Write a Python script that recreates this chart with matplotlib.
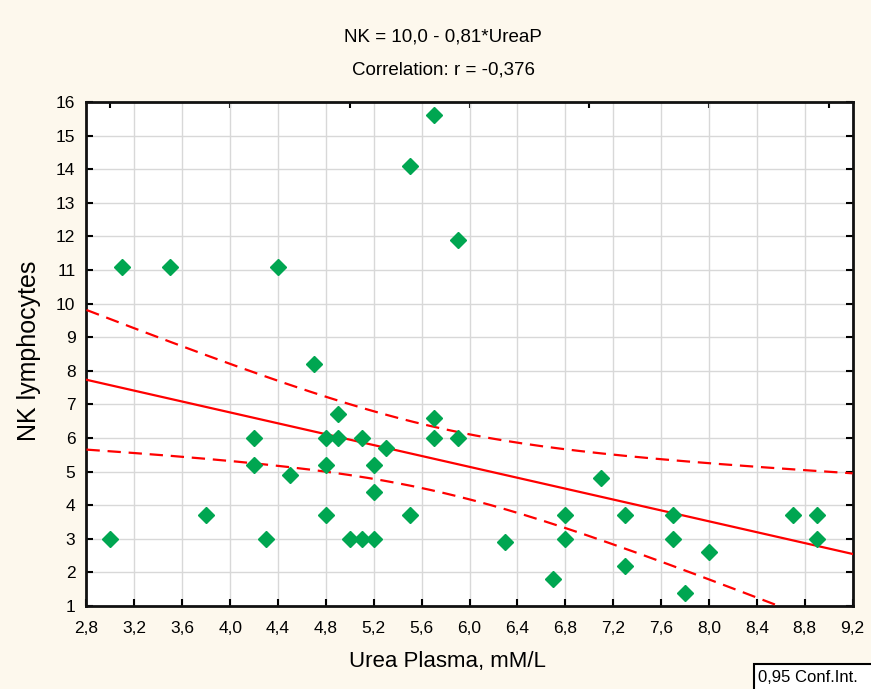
import numpy as np
import matplotlib
matplotlib.use('Agg')
import matplotlib.pyplot as plt
from matplotlib.patches import Rectangle
from matplotlib.ticker import FixedLocator

# urea plasma (mM/L) and NK lymphocytes
urea = [3.0, 3.1, 3.5, 3.8, 4.2, 4.2, 4.3, 4.4, 4.5, 4.7,
        4.8, 4.8, 4.8, 4.9, 4.9, 5.0, 5.1, 5.1, 5.2, 5.2,
        5.2, 5.3, 5.5, 5.5, 5.7, 5.7, 5.7, 5.9, 5.9, 6.3,
        6.7, 6.8, 6.8, 7.1, 7.3, 7.3, 7.7, 7.7, 7.8, 8.0,
        8.7, 8.9, 8.9]
nk = [3.0, 11.1, 11.1, 3.7, 6.0, 5.2, 3.0, 11.1, 4.9, 8.2,
      6.0, 5.2, 3.7, 6.7, 6.0, 3.0, 3.0, 6.0, 3.0, 5.2,
      4.4, 5.7, 14.1, 3.7, 15.6, 6.6, 6.0, 11.9, 6.0, 2.9,
      1.8, 3.7, 3.0, 4.8, 2.2, 3.7, 3.7, 3.0, 1.4, 2.6,
      3.7, 3.7, 3.0]

intercept = 10.0
slope = -0.81
t_crit = 2.0195  # 0.975 quantile, 41 df

x_ticks = [2.8, 3.2, 3.6, 4.0, 4.4, 4.8, 5.2, 5.6, 6.0, 6.4, 6.8, 7.2, 7.6, 8.0, 8.4, 8.8, 9.2]
y_ticks = list(range(1, 17))

fonts = ['Liberation Sans Narrow', 'Liberation Sans', 'DejaVu Sans']
plt.rcParams['font.family'] = fonts

x = np.array(urea)
y = np.array(nk)
n = len(x)
resid = y - (intercept + slope * x)
s = np.sqrt(np.sum(resid ** 2) / (n - 2))
sxx = np.sum((x - x.mean()) ** 2)
xs = np.linspace(2.8, 9.2, 200)
fit = intercept + slope * xs
half = t_crit * s * np.sqrt(1.0 / n + (xs - x.mean()) ** 2 / sxx)

W, H = 871, 689
fig = plt.figure(figsize=(8.71, 6.89), dpi=100, facecolor='#fdf8ed')
ax = fig.add_axes([0.0993, 0.1205, 0.8796, 0.7315])
ax.set_facecolor('white')

ax.plot(xs, fit, color='#ff0000', lw=1.6, zorder=3)
ax.plot(xs, fit + half, color='#ff0000', lw=1.6, dashes=(6, 3.5), zorder=3)
ax.plot(xs, fit - half, color='#ff0000', lw=1.6, dashes=(6, 3.5), zorder=3)
ax.plot(urea, nk, linestyle='none', marker='D', ms=8.5, color='#00a651', mec='#00a651', zorder=4)

ax.set_xlim(2.8, 9.2)
ax.set_ylim(1, 16)
ax.set_xticks(x_ticks)
ax.set_xticklabels([('%.1f' % v).replace('.', ',') for v in x_ticks])
ax.set_yticks(y_ticks)
ax.set_yticklabels([str(v) for v in y_ticks])
ax.grid(True, color='#d8d8d8', lw=1)
ax.set_axisbelow(True)
ax.tick_params(direction='in', length=5, width=1.5, labelsize=12.5, right=True, top=False)
ax.tick_params(axis='x', pad=11)
ax.tick_params(axis='y', pad=8)
for sp in ax.spines.values():
    sp.set_linewidth(2)
    sp.set_color('#111111')

# integer ticks along the top edge
top = ax.secondary_xaxis('top')
top.xaxis.set_major_locator(FixedLocator([3, 4, 5, 6, 7, 8, 9]))
top.tick_params(direction='in', length=4, width=1.5, labeltop=False)
top.spines['top'].set_visible(False)

fig.text(443 / W, 1 - 37 / H, 'NK = 10,0 - 0,81*UreaP', ha='center', va='center', fontsize=13.5)
fig.text(443 / W, 1 - 70 / H, 'Correlation: r = -0,376', ha='center', va='center', fontsize=13.5)
fig.text(447 / W, 1 - 662 / H, 'Urea Plasma, mM/L', ha='center', va='center', fontsize=16)
fig.text(29 / W, 1 - 351 / H, 'NK lymphocytes', ha='center', va='center', fontsize=18, rotation=90)

fig.patches.append(Rectangle((754 / W, -0.05), 0.2, 0.05 + (H - 664) / H, transform=fig.transFigure,
                             fc='white', ec='black', lw=1.5))
fig.text(758 / W, 1 - 677 / H, '0,95 Conf.Int.', ha='left', va='center', fontsize=12)

fig.savefig('out.png', dpi=100, facecolor=fig.get_facecolor())
